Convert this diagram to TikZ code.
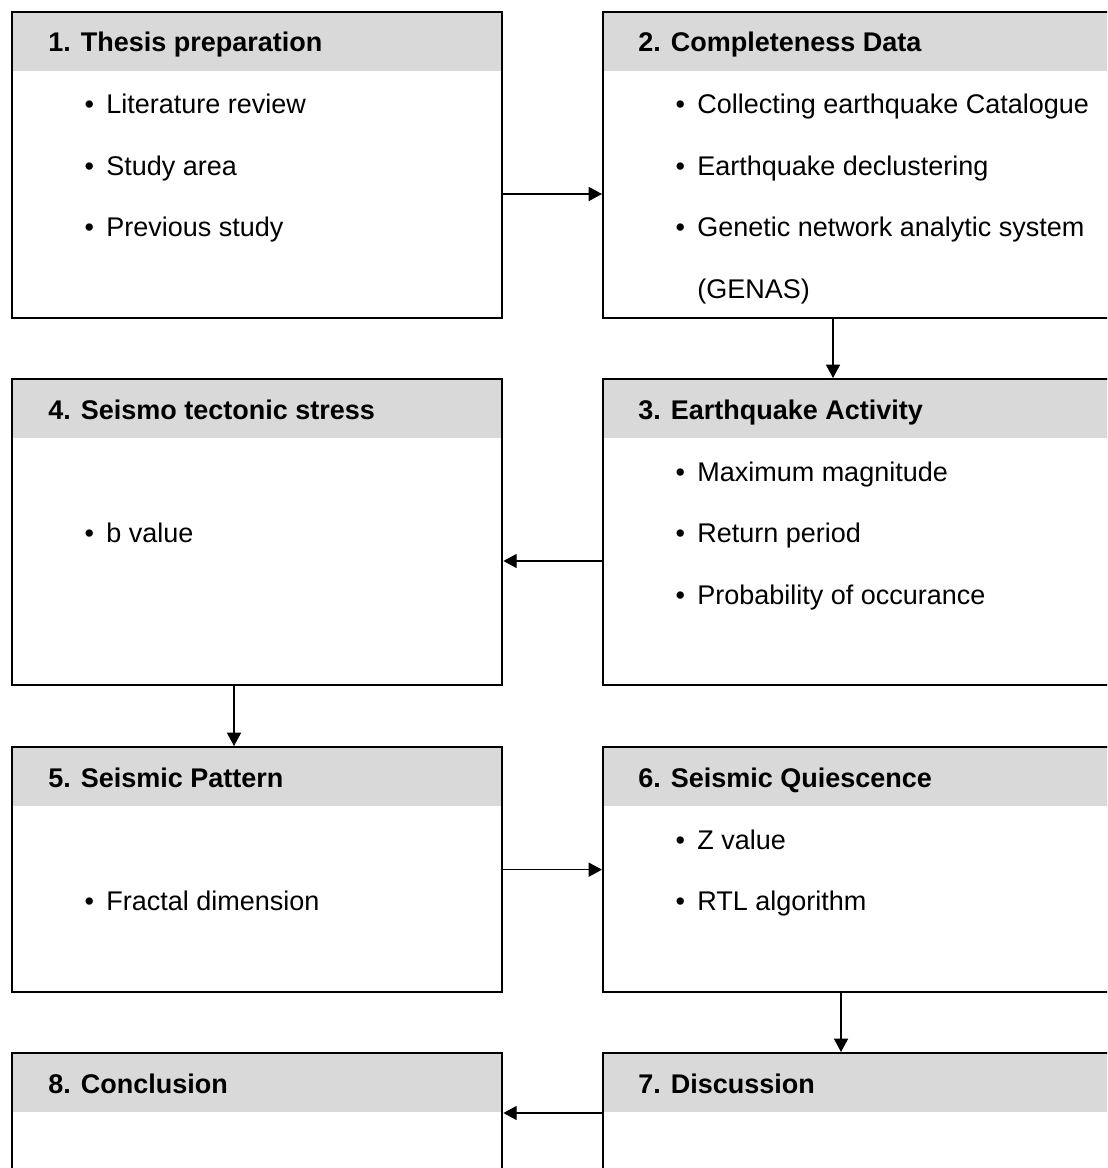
\documentclass[tikz,border=0pt]{standalone}
\usepackage{fontspec}
\setmainfont{Liberation Sans}
\usetikzlibrary{positioning,arrows.meta,calc}

\begin{document}
\begin{tikzpicture}[x=0.025cm,y=-0.025cm,
  stepbox/.style={rectangle,draw,line width=1.6pt,inner sep=0pt,anchor=north west,minimum width=12.25cm,minimum height=#1},
  stepbox/.default=7.65cm,
  widebox/.style={stepbox=#1,minimum width=13cm},
  widebox/.default=7.65cm,
  headbar/.style={rectangle,fill=black!15,inner sep=0pt,anchor=north west,minimum width=#1,minimum height=1.5cm},
  headtxt/.style={anchor=base west,inner sep=0pt,font=\fontsize{19.2pt}{23pt}\selectfont\bfseries},
  bulletline/.style={anchor=base west,inner sep=0pt,font=\fontsize{19.2pt}{23pt}\selectfont,execute at begin node={\llap{\textbullet\hspace{8.7pt}}}},
  contline/.style={anchor=base west,inner sep=0pt,font=\fontsize{19.2pt}{23pt}\selectfont},
  flow/.style={-{Triangle[length=9.5pt,width=10pt]},line width=1pt},
]
\useasboundingbox (0,0) rectangle (1107,1168);
\clip (0,0) rectangle (1107,1168);

% === ROW 1 ===
\node[headbar=12.25cm] (h1) at (11,11) {};
\node[stepbox] (b1) at (11,11) {};
\node[headtxt] (t1) at (48,52) {1. Thesis preparation};
\node[bulletline] (i11) at (106,114)   {Literature review};
\node[bulletline] (i12) at (106,175.5) {Study area};
\node[bulletline] (i13) at (106,237)   {Previous study};

\node[headbar=13cm] (h2) at (602,11) {};
\node[widebox] (b2) at (602,11) {};
\node[headtxt] (t2) at (638,52) {2. Completeness Data};
\node[bulletline] (i21) at (697,114)   {Collecting earthquake Catalogue};
\node[bulletline] (i22) at (697,175.5) {Earthquake declustering};
\node[bulletline] (i23) at (697,237)   {Genetic network analytic system};
\node[contline] (i24) at (697,298.5)   {(GENAS)};

\draw[flow] ($(b1.north east)+(0,183)$) -- ($(b2.north west)+(0,183)$);

% === ROW 2 ===
\node[headbar=12.25cm] (h4) at (11,378) {};
\node[stepbox] (b4) at (11,378) {};
\node[headtxt] (t4) at (48,419) {4. Seismo tectonic stress};
\node[bulletline] (i41) at (106,542.5) {b value};

\node[headbar=13cm] (h3) at (602,378) {};
\node[widebox] (b3) at (602,378) {};
\node[headtxt] (t3) at (638,419) {3. Earthquake Activity};
\node[bulletline] (i31) at (697,481)   {Maximum magnitude};
\node[bulletline] (i32) at (697,542.5) {Return period};
\node[bulletline] (i33) at (697,604)   {Probability of occurance};

\draw[flow] ($(b2.south west)+(231,0)$) -- ($(b3.north west)+(231,0)$);
\draw[flow] ($(b3.north west)+(0,183)$) -- ($(b4.north east)+(0,183)$);

% === ROW 3 ===
\node[headbar=12.25cm] (h5) at (11,746) {};
\node[stepbox=6.125cm] (b5) at (11,746) {};
\node[headtxt] (t5) at (48,787) {5. Seismic Pattern};
\node[bulletline] (i51) at (106,910.5) {Fractal dimension};

\node[headbar=13cm] (h6) at (602,746) {};
\node[widebox=6.125cm] (b6) at (602,746) {};
\node[headtxt] (t6) at (638,787) {6. Seismic Quiescence};
\node[bulletline] (i61) at (697,849)   {Z value};
\node[bulletline] (i62) at (697,910.5) {RTL algorithm};

\draw[flow] ($(b4.south west)+(223,0)$) -- ($(b5.north west)+(223,0)$);
\draw[flow] (b5.east) -- (b6.west);

% === ROW 4 ===
\node[headbar=12.25cm] (h8) at (11,1052) {};
\node[stepbox] (b8) at (11,1052) {};
\node[headtxt] (t8) at (48,1093) {8. Conclusion};

\node[headbar=13cm] (h7) at (602,1052) {};
\node[widebox] (b7) at (602,1052) {};
\node[headtxt] (t7) at (638,1093) {7. Discussion};

\draw[flow] ($(b6.south west)+(239,0)$) -- ($(b7.north west)+(239,0)$);
\draw[flow] ($(b7.north west)+(0,61)$) -- ($(b8.north east)+(0,61)$);

\end{tikzpicture}
\end{document}
